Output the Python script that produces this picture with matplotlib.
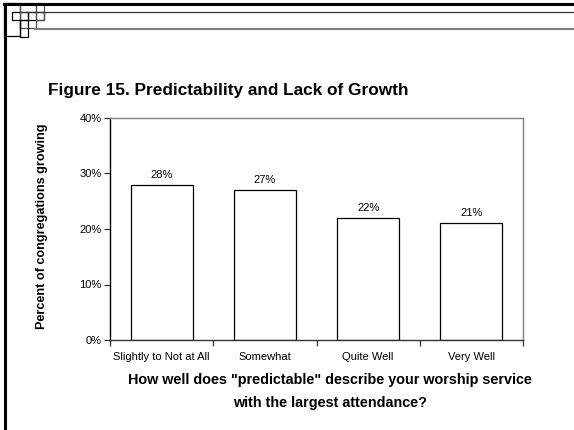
import matplotlib
matplotlib.use("Agg")
import matplotlib.pyplot as plt
from matplotlib.patches import Rectangle
from matplotlib.lines import Line2D
from matplotlib.ticker import FuncFormatter, FixedLocator

categories = ["Slightly to Not at All", "Somewhat", "Quite Well", "Very Well"]
values = [28, 27, 22, 21]
yticks = [0, 10, 20, 30, 40]

W, H = 574, 430
plt.rcParams['font.family'] = ['Liberation Sans', 'DejaVu Sans']
fig = plt.figure(figsize=(W / 100, H / 100), dpi=100)

def fx(x):
    return x / W

def fy(y):
    return 1 - y / H

# Slide decoration
fig.add_artist(Line2D([fx(4), fx(574)], [fy(4), fy(4)], color='black', lw=2.2))
fig.add_artist(Line2D([fx(5), fx(5)], [fy(4), fy(430)], color='black', lw=2.2))
fig.add_artist(Line2D([fx(20), fx(574)], [fy(11.5), fy(11.5)], color='#333333', lw=0.9))
fig.add_artist(Line2D([fx(35), fx(574)], [fy(29), fy(29)], color='#808080', lw=1.5))
for (x0, y0, x1, y1, c) in [(4, 3, 20, 36, 'black'), (12, 12, 28, 20, 'black'),
                            (20, 3, 36, 28, '#555555'), (28, 12, 44, 20, 'black'),
                            (20, 20, 28, 37, 'black'), (36, 3, 44, 20, '#555555')]:
    fig.add_artist(Rectangle((fx(x0), fy(y1)), fx(x1 - x0), (y1 - y0) / H,
                             fill=False, edgecolor=c, lw=0.9))

ax = fig.add_axes([fx(110), fy(340), fx(523 - 110), (340 - 118) / H])
x = list(range(len(categories)))
bars = ax.bar(x, values, width=0.6, color='white', edgecolor='black', linewidth=0.9)
for xi, v in zip(x, values):
    ax.text(xi, v + 0.9, f"{v}%", ha='center', va='bottom', fontsize=8)

ax.set_xlim(-0.5, len(categories) - 0.5)
ax.set_ylim(0, 40)
ax.yaxis.set_major_locator(FixedLocator(yticks))
ax.yaxis.set_major_formatter(FuncFormatter(lambda v, p: f"{int(v)}%"))
ax.set_xticks([i - 0.5 for i in range(len(categories) + 1)])
ax.set_xticklabels([])
ax.set_xticks(x, minor=True)
ax.set_xticklabels(categories, minor=True, fontsize=8)
ax.tick_params(axis='x', which='minor', length=0, pad=9)
ax.tick_params(axis='x', which='major', length=4, direction='out', width=0.9, color='#333333')
ax.tick_params(axis='y', length=4, direction='out', width=0.9, labelsize=8, pad=2, color='#333333')

ax.spines['left'].set_color('black')
ax.spines['left'].set_linewidth(1.0)
ax.spines['bottom'].set_color('#333333')
ax.spines['bottom'].set_linewidth(1.0)
for s in ['top', 'right']:
    ax.spines[s].set_color('#808080')
    ax.spines[s].set_linewidth(1.0)

fig.text(fx(48), fy(91), "Figure 15. Predictability and Lack of Growth",
         fontsize=12.4, fontweight='bold', ha='left', va='center')
fig.text(fx(42), fy(226), "Percent of congregations growing", rotation=90,
         fontsize=9.1, fontweight='bold', ha='center', va='center')
fig.text(fx(330), fy(380), 'How well does "predictable" describe your worship service',
         fontsize=10.4, fontweight='bold', ha='center', va='center')
fig.text(fx(330), fy(403), 'with the largest attendance?',
         fontsize=10.4, fontweight='bold', ha='center', va='center')

fig.savefig("out.png", dpi=100)
